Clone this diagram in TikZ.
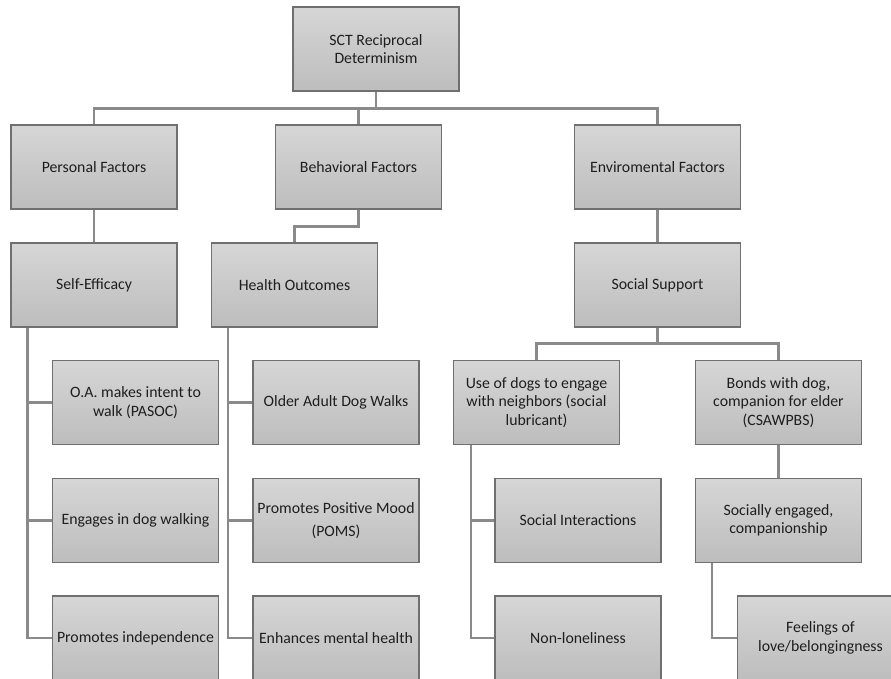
\documentclass[tikz,border=0pt]{standalone}
\usepackage{fontspec}
\setmainfont{Carlito}
\usetikzlibrary{positioning, calc}
\definecolor{ctop}{HTML}{D6D6D6}
\definecolor{cbot}{HTML}{BDBDBD}
\definecolor{cedge}{HTML}{707070}
\definecolor{clink}{HTML}{8A8A8A}
\definecolor{ctext}{HTML}{1E1E1E}
\tikzset{
  every picture/.style={font=\fontsize{15.8}{18.5}\selectfont, text=ctext},
  box/.style={draw=cedge, line width=1.3pt, top color=ctop, bottom color=cbot, align=center,
    minimum width=166pt, minimum height=84pt, inner xsep=2pt, inner ysep=2pt},
  link/.style={draw=clink, line width=2.6pt},
}

\begin{document}
\begin{tikzpicture}[x=1pt, y=-1pt]
  \clip (0,0) rectangle (891,679);
  % top level
  \node[box] (sct) at (376,49) {SCT Reciprocal\\Determinism};
  \node[box] (pers) at (94,167) {Personal Factors};
  \node[box] (behav) at (358.5,167) {Behavioral Factors};
  \node[box] (envir) at (657.5,167) {Enviromental Factors};
  % second level
  \node[box] (selfeff) at (94,285) {Self-Efficacy};
  \node[box] (health) at (294.5,285) {Health Outcomes};
  \node[box] (socsup) at (657.5,285) {Social Support};
  % personal branch
  \node[box] (intent) at (135.5,402.5) {O.A. makes intent to\\walk (PASOC)};
  \node[box] (engage) at (135.5,520.5) {Engages in dog walking};
  \node[box] (indep) at (135.5,638) {Promotes independence};
  % behavioral branch
  \node[box] (walks) at (336,402.5) {Older Adult Dog Walks};
  \node[box] (mood) at (336,520.5) {Promotes Positive Mood\\[5pt](POMS)};
  \node[box] (mental) at (336,638) {Enhances mental health};
  % environmental branch
  \node[box] (usedogs) at (536.5,402.5) {Use of dogs to engage\\with neighbors (social\\lubricant)};
  \node[box] (bonds) at (778.5,402.5) {Bonds with dog,\\companion for elder\\(CSAWPBS)};
  \node[box] (interact) at (578,520.5) {Social Interactions};
  \node[box] (nonlone) at (578,638) {Non-loneliness};
  \node[box] (engaged) at (778.5,520.5) {Socially engaged,\\companionship};
  \node[box] (feel) at (820.5,638) {Feelings of\\love/belongingness};

  \coordinate (bus) at ($(sct.south)+(0,17)$);
  \draw[link] (sct.south) -- (bus);
  \draw[link] (pers.north) |- (bus) -| (envir.north);
  \draw[link] (behav.north) -- (behav.north |- bus);
  \draw[link] (pers.south) -- (selfeff.north);
  \draw[link] (behav.south) -- ++(0,17) -| (health.north);
  \draw[link] (envir.south) -- (socsup.north);

  \foreach \kid in {intent, engage, indep}
    \draw[link] ([xshift=17pt]selfeff.south west) |- (\kid.west);
  \foreach \kid in {walks, mood, mental}
    \draw[link] ([xshift=17pt]health.south west) |- (\kid.west);

  \draw[link] (socsup.south) -- ++(0,16) coordinate (subbus);
  \draw[link] (usedogs.north) |- (subbus) -| (bonds.north);
  \foreach \kid in {interact, nonlone}
    \draw[link] ([xshift=18pt]usedogs.south west) |- (\kid.west);
  \draw[link] (bonds.south) -- (engaged.north);
  \draw[link] ([xshift=17pt]engaged.south west) |- (feel.west);
\end{tikzpicture}
\end{document}
